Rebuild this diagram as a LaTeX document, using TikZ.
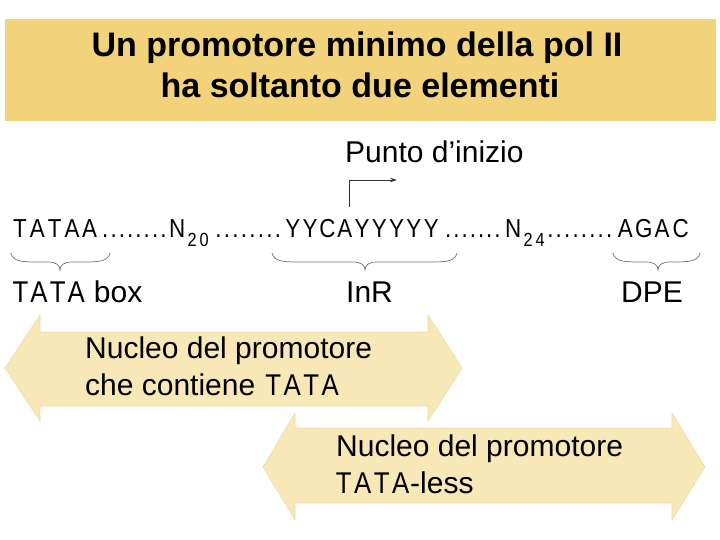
\documentclass[tikz,border=0pt]{standalone}
\usepackage{fontspec}
\setmainfont{Liberation Sans}
\newfontfamily\seqfont[FakeStretch=0.86]{Liberation Sans}
\usetikzlibrary{arrows.meta}
\definecolor{bandcol}{HTML}{F2D27B}
\definecolor{arrcol}{HTML}{F8E8B8}
\definecolor{arredge}{HTML}{EFDBA6}
\definecolor{bracecol}{HTML}{707070}
\def\mloop#1{\ifx#1\relax\else\makebox[\mpitch][c]{#1}\expandafter\mloop\fi}
\newcommand\mseq[2]{\def\mpitch{#1}\mloop#2\relax}
\begin{document}
\begin{tikzpicture}[x=1pt,y=-1pt,
  title/.style={inner sep=0pt,anchor=base,font=\bfseries\fontsize{34}{41}\selectfont},
  lbl/.style={inner sep=0pt,anchor=base west,font=\fontsize{30}{36}\selectfont},
  seq/.style={inner sep=0pt,anchor=base west,font=\seqfont\fontsize{26}{30}\selectfont},
  sub/.style={inner sep=0pt,anchor=base west,font=\seqfont\fontsize{19}{22}\selectfont},
  fatarrow/.style={fill=arrcol,draw=arredge,line width=0.6pt,line join=miter},
  bracepath/.style={draw=bracecol,line width=0.7pt},
  startarrow/.style={draw=black!80,line width=0.8pt,-{Stealth[length=7pt,width=4.5pt]}}]
\useasboundingbox (0,0) rectangle (720,540);
% title band
\fill[bandcol] (5,19) rectangle (716,121);
\node[title] (t1) at (357,57) {Un promotore minimo della pol II};
\node[title] (t2) at (360,98) {ha soltanto due elementi};
% start site
\node[lbl] (punto) at (345,163) {Punto d’inizio};
\coordinate (sbase) at (349,207);
\coordinate (scorner) at (349,180);
\coordinate (send) at (397,180);
\draw[startarrow] (sbase) -- (scorner) -- (send);
% sequence
\node[seq] (s1) at (11,237) {\mseq{17.4pt}{TATAA}};
\node[seq] (d1) at (101,237) {\mseq{8.3pt}{........}};
\node[seq] (n20) at (168,237) {\mseq{18pt}{N}};
\node[sub] (n20s) at (186,247) {\mseq{12pt}{20}};
\node[seq] (d2) at (214,237) {\mseq{8.5pt}{........}};
\node[seq] (inr) at (284,237) {\mseq{17.3pt}{YYCAYYYYY}};
\node[seq] (d3) at (444,237) {\mseq{8.2pt}{.......}};
\node[seq] (n24) at (504,237) {\mseq{18pt}{N}};
\node[sub] (n24s) at (522,247) {\mseq{12pt}{24}};
\node[seq] (d4) at (546,237) {\mseq{8.4pt}{........}};
\node[seq] (agac) at (616,237) {\mseq{18.4pt}{AGAC}};
% braces
\foreach \xa/\xm/\xb in {11/60/110, 272/365/457, 613/658/700}{
  \draw[bracepath] (\xa,253) .. controls (\xa+2,261) and (\xa+10,262) .. (\xa+25,262)
    -- (\xm-12,262) .. controls (\xm-4,262) and (\xm,265) .. (\xm,270)
    .. controls (\xm,265) and (\xm+4,262) .. (\xm+12,262)
    -- (\xb-25,262) .. controls (\xb-10,262) and (\xb-2,261) .. (\xb,253);
}
% labels
\node[lbl] (tbox) at (11,302) {{\seqfont\mseq{18.6pt}{TATA}} box};
\node[lbl] (inrl) at (346,302) {InR};
\node[lbl] (dpe) at (621,302) {DPE};
% fat arrows
\path[fatarrow] (5,368) -- (40,315) -- (40,332) -- (428,332) -- (428,315) -- (462,368)
  -- (428,421) -- (428,406) -- (40,406) -- (40,421) -- cycle;
\path[fatarrow] (263,467) -- (295,413) -- (295,428) -- (672,428) -- (672,413) -- (705,467)
  -- (672,520) -- (672,503) -- (295,503) -- (295,520) -- cycle;
\node[lbl] (a1l1) at (85,358) {Nucleo del promotore};
\node[lbl] (a1l2) at (85,395) {che contiene {\seqfont\mseq{19pt}{TATA}}};
\node[lbl] (a2l1) at (336,456) {Nucleo del promotore};
\node[lbl] (a2l2) at (334,493) {{\seqfont\mseq{19pt}{TATA}}-less};
\end{tikzpicture}
\end{document}
